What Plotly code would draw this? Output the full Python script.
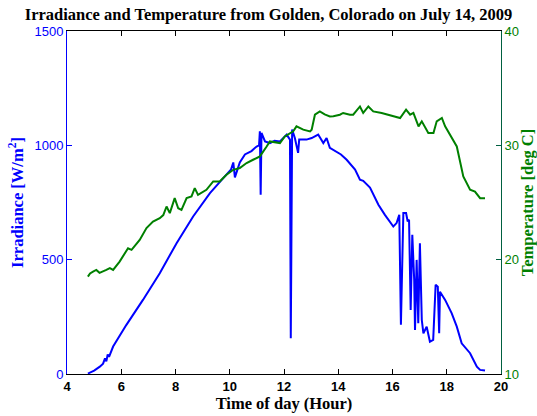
import plotly.graph_objects as go

irr_hour = [4.77, 5.0, 5.21, 5.33, 5.40, 5.45, 5.50, 5.55, 5.70, 6.19, 6.80, 7.42, 8.04, 8.65, 9.27, 9.88,
            10.05, 10.13, 10.19, 10.37, 10.56, 10.80, 10.99, 11.08, 11.11, 11.14, 11.17, 11.30, 11.48, 11.65,
            11.85, 12.10, 12.22, 12.25, 12.30, 12.40, 12.52, 12.56, 12.83, 13.02, 13.26, 13.45, 13.57, 13.69,
            13.88, 14.10, 14.31, 14.62, 14.80, 14.92, 15.17, 15.48, 15.72, 16.03, 16.15, 16.25, 16.31, 16.40,
            16.50, 16.56, 16.61, 16.67, 16.73, 16.80, 16.83, 16.89, 16.95, 17.01, 17.08, 17.14, 17.26, 17.38,
            17.50, 17.59, 17.67, 17.72, 17.75, 17.94, 18.18, 18.37, 18.55, 18.86, 19.11, 19.23, 19.41]
irradiance = [2, 15, 32, 45, 68, 55, 85, 75, 120, 215, 324, 441, 572, 689, 791, 872,
              895, 925, 860, 925, 960, 975, 995, 1000, 1061, 784, 1054, 1017, 1010, 1020,
              1017, 1047, 1025, 156, 1069, 1032, 967, 1025, 1025, 1032, 1047, 1010, 1032, 989,
              974, 960, 937, 894, 850, 845, 815, 740, 696, 645, 660, 696, 215, 704,
              704, 667, 675, 280, 609, 412, 193, 499, 222, 572, 236, 178, 207, 141,
              149, 390, 382, 178, 360, 324, 266, 207, 134, 91, 32, 18, 15]

temp_hour = [4.77, 4.85, 4.96, 5.08, 5.20, 5.33, 5.45, 5.58, 5.70, 5.94, 6.25, 6.38, 6.68, 6.93, 7.17, 7.42,
             7.55, 7.67, 7.79, 7.97, 8.10, 8.22, 8.41, 8.59, 8.71, 8.83, 9.14, 9.39, 9.63, 9.88, 10.13,
             10.37, 10.62, 10.86, 11.11, 11.36, 11.48, 11.85, 12.03, 12.34, 12.46, 12.71, 12.96, 13.02,
             13.14, 13.32, 13.50, 13.69, 13.82, 14.06, 14.18, 14.43, 14.55, 14.80, 14.92, 15.11, 15.29,
             15.60, 15.85, 16.28, 16.50, 16.65, 16.77, 16.96, 17.08, 17.32, 17.51, 17.63, 17.82, 17.94,
             18.37, 18.49, 18.61, 18.86, 19.04, 19.23, 19.41]
temperature = [18.52, 18.8, 18.96, 19.1, 18.85, 18.96, 19.1, 19.26, 19.1, 19.83, 21.0, 20.86, 21.73, 22.76, 23.33, 23.63,
               23.9, 24.65, 24.07, 25.38, 24.5, 24.36, 25.38, 25.53, 26.26, 25.67, 26.11, 26.84, 26.84, 27.43, 27.86,
               28.01, 28.45, 28.74, 29.03, 29.9, 30.34, 30.2, 30.78, 31.22, 31.66, 31.37, 31.22, 31.37,
               32.68, 32.97, 32.7, 32.53, 32.55, 32.68, 32.83, 32.68, 32.68, 33.4, 32.83, 33.4, 32.97,
               32.83, 32.68, 32.39, 33.12, 32.68, 32.83, 31.66, 32.1, 31.08, 31.08, 32.1, 32.39, 31.66,
               29.9, 28.59, 27.28, 26.11, 25.96, 25.38, 25.38]

x_ticks = [4, 6, 8, 10, 12, 14, 16, 18, 20]
irr_ticks = [0, 500, 1000, 1500]
temp_ticks = [10, 20, 30, 40]

BLUE = "#0000FF"
GREEN = "#008000"
SERIF = "Liberation Serif, Times New Roman, serif"
SANS = "Liberation Sans, Arial, sans-serif"

fig = go.Figure()
fig.add_trace(go.Scatter(x=irr_hour, y=irradiance, mode="lines",
                         line=dict(color=BLUE, width=2), yaxis="y", showlegend=False))
fig.add_trace(go.Scatter(x=temp_hour, y=temperature, mode="lines",
                         line=dict(color=GREEN, width=2), yaxis="y2", showlegend=False))

fig.update_layout(
    width=537, height=416,
    margin=dict(l=67, r=36, t=31, b=42, autoexpand=False),
    paper_bgcolor="white", plot_bgcolor="white",
    title=dict(text="<b>Irradiance and Temperature from Golden, Colorado on July 14, 2009</b>",
               font=dict(family=SERIF, size=16.5, color="black"),
               x=0.5, xanchor="center", y=1 - 14 / 416, yanchor="middle", yref="container"),
    xaxis=dict(range=[4, 20], tickvals=x_ticks, ticks="inside", ticklen=5, tickcolor="black",
               showline=True, linecolor="black", linewidth=1, mirror="ticks", showgrid=False,
               zeroline=False, automargin=False,
               tickfont=dict(family=SANS, size=13, color="black", weight="bold"),
               title=dict(text="<b>Time of day (Hour)</b>", standoff=2,
                          font=dict(family=SERIF, size=16.5, color="black"))),
    yaxis=dict(range=[0, 1500], tickvals=irr_ticks, ticks="inside", ticklen=5, tickcolor=BLUE,
               showline=True, linecolor=BLUE, linewidth=1, showgrid=False, zeroline=False,
               automargin=False,
               tickfont=dict(family=SANS, size=13, color=BLUE),
               title=dict(text="<b>Irradiance [W/m<sup>2</sup>]</b>", standoff=6,
                          font=dict(family=SERIF, size=16.5, color=BLUE))),
    yaxis2=dict(range=[10, 40], tickvals=temp_ticks, ticks="inside", ticklen=5, tickcolor="#006040",
                showline=True, linecolor="#006040", linewidth=1, showgrid=False, zeroline=False,
                overlaying="y", side="right", automargin=False,
                tickfont=dict(family=SANS, size=13, color=GREEN),
                title=dict(text="<b>Temperature [deg C]</b>", standoff=4,
                           font=dict(family=SERIF, size=16.5, color=GREEN))),
)

fig.write_html("out.html")
